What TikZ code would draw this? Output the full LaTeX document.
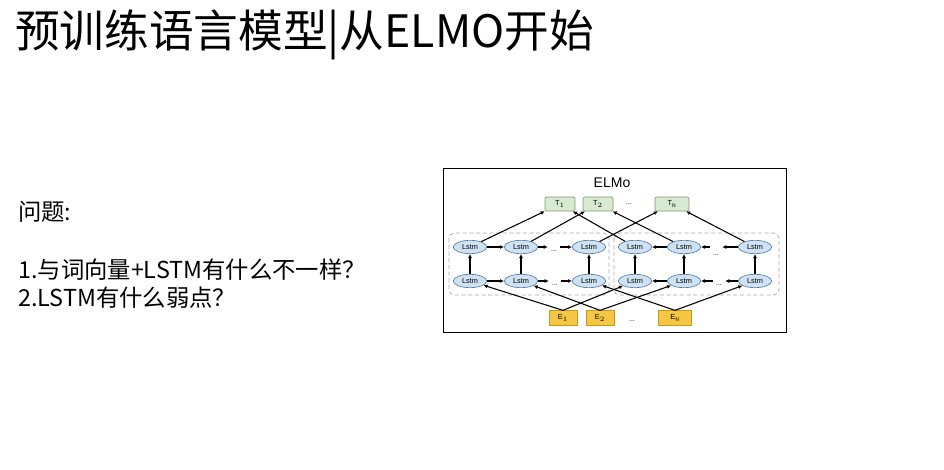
\documentclass[tikz,border=0pt]{standalone}
\usepackage{fontspec}
\setmainfont{Noto Sans CJK SC}
\newfontfamily\armfont{Liberation Sans}
\usepackage{xcolor}
\usepackage{tikz}
\usetikzlibrary{positioning,arrows.meta,shapes.geometric,calc}
\definecolor{lstmfill}{HTML}{CFE2F3}
\definecolor{lstmdraw}{HTML}{5B7FA6}
\definecolor{tokfill}{HTML}{D9EAD3}
\definecolor{tokdraw}{HTML}{7F9A7A}
\definecolor{embfill}{HTML}{F6C744}
\definecolor{embdraw}{HTML}{C49A1C}

\begin{document}
\begin{tikzpicture}[x=0.75pt,y=-0.75pt,
    lstm/.style={ellipse,draw=lstmdraw,fill=lstmfill,line width=0.5pt,
      minimum width=25pt,minimum height=10pt,inner sep=0pt,font=\armfont\fontsize{5.5}{6}\selectfont},
    tok/.style={rectangle,rounded corners=1pt,draw=tokdraw,fill=tokfill,line width=0.5pt,
      minimum width=22.5pt,minimum height=10.5pt,inner sep=0pt,font=\armfont\fontsize{5.5}{6}\selectfont},
    emb/.style={rectangle,draw=embdraw,fill=embfill,line width=0.5pt,
      minimum width=21pt,minimum height=11pt,inner sep=0pt,font=\armfont\fontsize{5.5}{6}\selectfont},
    dots/.style={inner sep=0pt,minimum width=9pt,font=\armfont\fontsize{5}{6}\selectfont},
    conn/.style={line width=0.8pt,-{Latex[length=3pt,width=3pt]}},
    grp/.style={draw=gray!70,densely dashed,line width=0.5pt,rounded corners=4pt}]
  \useasboundingbox (0,0) rectangle (944,470);

  % slide text
  \node[anchor=west,inner sep=0pt,font=\fontsize{33.5}{36}\selectfont] (title) at (15,35) {预训练语言模型|从ELMO开始};
  \node[anchor=west,inner sep=0pt,font=\fontsize{17.5}{21}\selectfont] (q0) at (18,212) {问题:};
  \node[anchor=west,inner sep=0pt,font=\fontsize{17.5}{21}\selectfont] (q1) at (18,270) {1.与词向量+LSTM有什么不一样？};
  \node[anchor=west,inner sep=0pt,font=\fontsize{17.5}{21}\selectfont] (q2) at (18,298) {2.LSTM有什么弱点？};

  % ELMo figure
  \draw[line width=0.7pt] (443,168) rectangle (786,332);
  \node[font=\armfont\fontsize{10.5}{12}\selectfont] (elmo) at (612,183) {ELMo};
  \draw[grp] (449,233) rectangle (609,295);
  \draw[grp] (614,233) rectangle (779,295);

  \node[tok] (T1) at (560,204) {T$_1$};
  \node[tok] (T2) at (598,204) {T$_2$};
  \node[dots] (Td) at (629,204) {...};
  \node[tok,minimum width=25.5pt] (TN) at (672,204) {T$_\mathrm{N}$};

  \node[lstm] (L1t) at (470,247) {Lstm};
  \node[lstm] (L2t) at (521,247) {Lstm};
  \node[dots] (Ldt) at (554,251) {...};
  \node[lstm] (L3t) at (589,247) {Lstm};
  \node[lstm] (L1b) at (470,281) {Lstm};
  \node[lstm] (L2b) at (521,281) {Lstm};
  \node[dots] (Ldb) at (555,285) {...};
  \node[lstm] (L3b) at (589,281) {Lstm};

  \node[lstm] (R1t) at (635,247) {Lstm};
  \node[lstm] (R2t) at (684,247) {Lstm};
  \node[dots] (Rdt) at (716,255) {...};
  \node[lstm] (R3t) at (755,247) {Lstm};
  \node[lstm] (R1b) at (635,281) {Lstm};
  \node[lstm] (R2b) at (684,281) {Lstm};
  \node[dots] (Rdb) at (719,285) {...};
  \node[lstm] (R3b) at (755,281) {Lstm};

  \node[emb] (E1) at (563,318) {E$_1$};
  \node[emb] (E2) at (600,318) {E$_2$};
  \node[dots] (Ed) at (632,321) {...};
  \node[emb,minimum width=25pt] (EN) at (675,318) {E$_\mathrm{N}$};

  % forward
  \draw[conn] (L1t) -- (L2t);
  \draw[conn] (L2t) -- (Ldt.west |- L2t);
  \draw[conn] (Ldt.east |- L3t) -- (L3t);
  \draw[conn] (L1b) -- (L2b);
  \draw[conn] (L2b) -- (Ldb.west |- L2b);
  \draw[conn] (Ldb.east |- L3b) -- (L3b);
  % backward
  \draw[conn] (R2t) -- (R1t);
  \draw[conn] (Rdt.west |- R2t) -- (R2t);
  \draw[conn] (R3t) -- (Rdt.east |- R3t);
  \draw[conn] (R2b) -- (R1b);
  \draw[conn] (Rdb.west |- R2b) -- (R2b);
  \draw[conn] (R3b) -- (Rdb.east |- R3b);
  % layers
  \draw[conn] (L1b) -- (L1t);
  \draw[conn] (L2b) -- (L2t);
  \draw[conn] (L3b) -- (L3t);
  \draw[conn] (R1b) -- (R1t);
  \draw[conn] (R2b) -- (R2t);
  \draw[conn] (R3b) -- (R3t);
  % inputs
  \draw[conn] (E1.north) -- (L1b);
  \draw[conn] (E1.north) -- (R1b);
  \draw[conn] (E2.north) -- (L2b);
  \draw[conn] (E2.north) -- (R2b);
  \draw[conn] (EN.north) -- (L3b);
  \draw[conn] (EN.north) -- (R3b);
  % outputs
  \draw[conn] (L1t) -- (T1);
  \draw[conn] (R1t) -- (T1);
  \draw[conn] (L2t) -- (T2);
  \draw[conn] (R2t) -- (T2);
  \draw[conn] (L3t) -- (TN);
  \draw[conn] (R3t) -- (TN);
\end{tikzpicture}
\end{document}
